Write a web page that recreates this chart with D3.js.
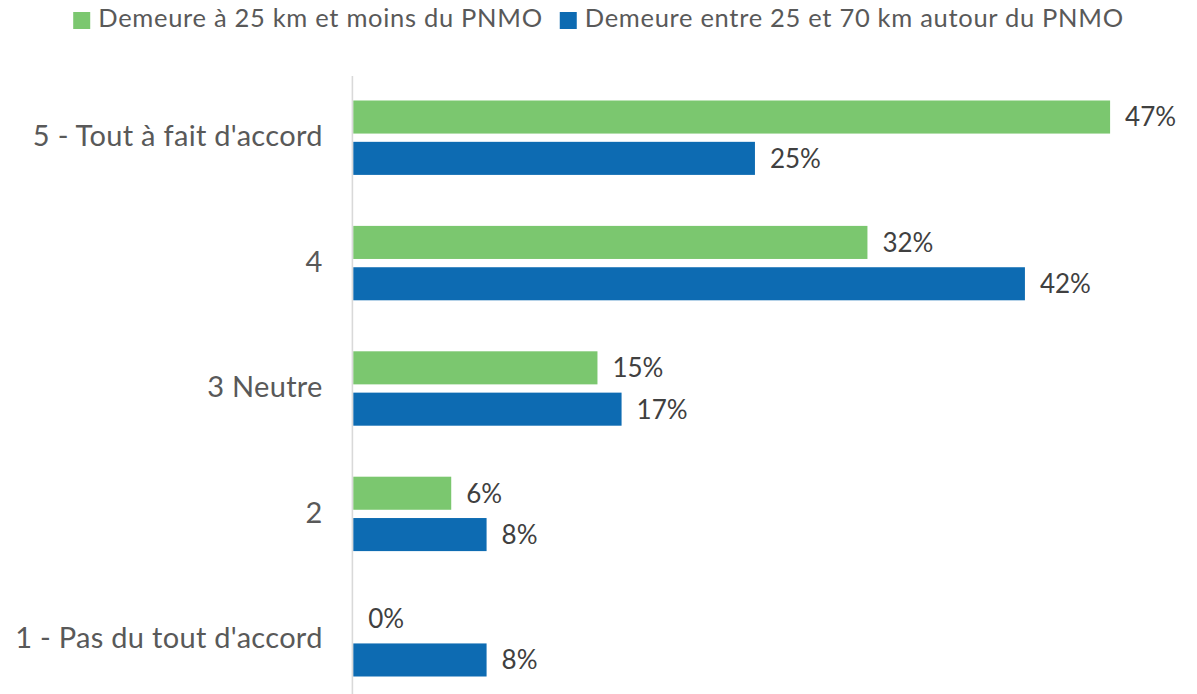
<!DOCTYPE html>
<html>
<head>
<meta charset="utf-8">
<script src="https://cdn.jsdelivr.net/npm/d3@7"></script>
<style>
  html, body { margin: 0; padding: 0; background: #ffffff; }
  svg { display: block; }
  text { font-family: Lato, "Open Sans", sans-serif; }
</style>
</head>
<body>
<svg id="chart" width="1197" height="694"></svg>
<script>
const categories = ["5 - Tout à fait d'accord", "4", "3 Neutre", "2", "1 - Pas du tout d'accord"];
const seriesNames = ["Demeure à 25 km et moins du PNMO", "Demeure entre 25 et 70 km autour du PNMO"];
const seriesColors = ["#7BC76F", "#0D6BB2"];
const near25 = [0.471, 0.320, 0.152, 0.061, 0.000];
const between25and70 = [0.250, 0.418, 0.167, 0.083, 0.083];
const xDomain = [0, 0.5];

const W = 1197, H = 694;
const svg = d3.select("#chart");

const x = d3.scaleLinear().domain(xDomain).range([353.2, 1156.7]);
const y0 = d3.scaleBand().domain(categories).range([75, 702]).padding(0);
const y1 = d3.scaleBand().domain([0, 1]).range([y0.bandwidth() / 2 - 37.2, y0.bandwidth() / 2 + 37.2]).paddingInner(0.2).paddingOuter(0);

const seriesValues = [near25, between25and70];
const pct = d3.format(".0%");

// bars
const groups = svg.append("g").selectAll("g")
  .data(categories)
  .join("g")
  .attr("transform", d => `translate(0,${y0(d)})`);

groups.selectAll("rect")
  .data((c, i) => seriesValues.map((vals, s) => ({ s, v: vals[i] })))
  .join("rect")
  .attr("x", x(0))
  .attr("y", d => y1(d.s))
  .attr("width", d => Math.max(0, x(d.v) - x(0)))
  .attr("height", y1.bandwidth())
  .attr("fill", d => seriesColors[d.s]);

groups.selectAll("text.lbl")
  .data((c, i) => seriesValues.map((vals, s) => ({ s, v: vals[i] })))
  .join("text")
  .attr("class", "lbl")
  .attr("x", d => x(d.v) + 15)
  .attr("y", d => y1(d.s) + y1.bandwidth() / 2)
  .attr("dy", "0.36em")
  .attr("font-size", 26)
  .attr("fill", "#404040")
  .text(d => pct(d.v));

// vertical axis
const yAxis = d3.axisLeft(y0).tickSize(0).tickPadding(30);
const ax = svg.append("g").attr("transform", `translate(${x(0) - 0.8},0)`).call(yAxis);
ax.select(".domain").attr("stroke", "#d9d9d9").attr("stroke-width", 1.6)
  .attr("d", `M0,${y0.range()[0] + 1}V${H + 10}`);
ax.selectAll(".tick text")
  .attr("font-size", 29)
  .attr("fill", "#595959")
  .attr("font-family", "Lato, 'Open Sans', sans-serif")
  .attr("letter-spacing", "0.3px")
  .attr("x", -29.7)
  .attr("dy", "0.3em");

// legend
const legend = svg.append("g");
const items = legend.selectAll("g").data(seriesNames).join("g");
items.append("rect").attr("width", 17).attr("height", 17).attr("y", 12)
  .attr("fill", (d, i) => seriesColors[i]);
items.append("text").attr("x", 25).attr("y", 26.7)
  .attr("font-size", 25.5).attr("letter-spacing", "0.7px")
  .attr("fill", "#595959").text(d => d);
let widths = [];
items.each(function () { widths.push(this.getBBox().width); });
const gap = 17;
const total = d3.sum(widths) + gap * (widths.length - 1);
let cx = W / 2 - total / 2;
items.attr("transform", (d, i) => {
  const t = `translate(${cx},0)`;
  cx += widths[i] + gap;
  return t;
});
</script>
</body>
</html>
